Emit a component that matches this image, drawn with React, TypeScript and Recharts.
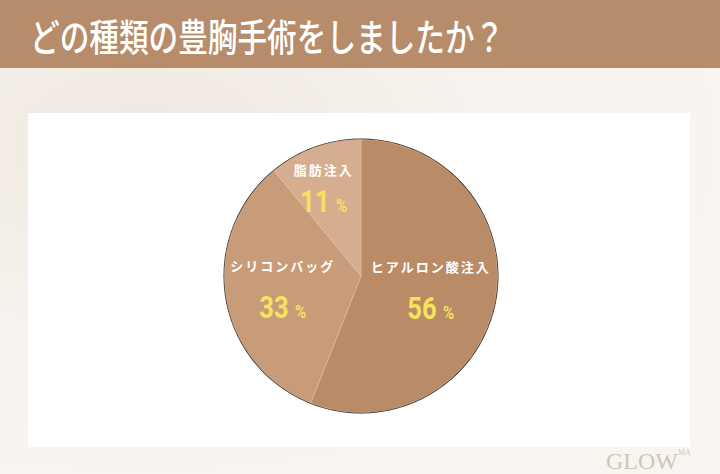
import React from "react";
import { PieChart, Pie, Cell } from "recharts";

const TITLE = "どの種類の豊胸手術をしましたか？";
const categories = ["ヒアルロン酸注入", "シリコンバッグ", "脂肪注入"];
const values = [56, 33, 11];
const sliceColors = ["#b98b67", "#c89c78", "#d6ae8f"];

const data = categories.map((name, i) => ({ name, value: values[i] }));
const ring = [{ name: "ring", value: 1 }];

const RAD = Math.PI / 180;
const labelRadiusFactor = [0.52, 0.58, 0.675];
const labelAngleShift = [0, 0, 4];
const numberGap = [30, 30, 20];

const renderLabel = (props: any) => {
  const { cx, cy, midAngle, outerRadius, index, name, value } = props;
  const r = outerRadius * labelRadiusFactor[index];
  const a = (midAngle + labelAngleShift[index]) * RAD;
  const x = cx + r * Math.cos(-a);
  const y = cy + r * Math.sin(-a);
  return (
    <g>
      <text
        x={x}
        y={y - 17}
        textAnchor="middle"
        fill="#ffffff"
        fontSize={13}
        fontWeight={700}
        letterSpacing={2}
        fontFamily="'Noto Sans CJK JP', sans-serif"
      >
        {name}
      </text>
      <text
        transform={`translate(${x} ${y + numberGap[index]}) scale(0.8 1)`}
        textAnchor="middle"
        fill="#f6e25c"
        fontFamily="'Roboto', 'Noto Sans', sans-serif"
        fontWeight={700}
      >
        <tspan fontSize={32}>{value}</tspan>
        <tspan fontSize={19} dx={8}>%</tspan>
      </text>
    </g>
  );
};

export default function App() {
  return (
    <div
      style={{
        position: "absolute",
        left: 0,
        top: 0,
        width: 720,
        height: 474,
        overflow: "hidden",
        background:
          "radial-gradient(ellipse at 20% 30%, #efe8df 0%, #f6f2ed 40%, #f8f5f1 70%), #f6f2ed",
        fontFamily: "'Noto Sans CJK JP', sans-serif",
      }}
    >
      <div
        style={{
          position: "absolute",
          left: 0,
          top: 0,
          width: 720,
          height: 68,
          background: "#b78c6a",
        }}
      />
      <div
        style={{
          position: "absolute",
          left: 30,
          top: 8,
          height: 54,
          color: "#ffffff",
          fontSize: 38,
          fontWeight: 500,
          lineHeight: "54px",
          whiteSpace: "nowrap",
          transform: "scaleX(0.78)",
          transformOrigin: "left center",
        }}
      >
        {TITLE}
      </div>
      <div
        style={{
          position: "absolute",
          left: 28,
          top: 113,
          width: 662,
          height: 334,
          background: "#ffffff",
        }}
      />
      <div
        style={{
          position: "absolute",
          left: 606,
          top: 446,
          color: "#d2c4b8",
          fontFamily: "'Liberation Serif', 'DejaVu Serif', serif",
          fontSize: 24,
          letterSpacing: 0,
          lineHeight: "30px",
        }}
      >
        GLOW
        <span style={{ fontSize: 8, verticalAlign: "top", lineHeight: "14px" }}>MA</span>
      </div>
      <div style={{ position: "absolute", left: 0, top: 0 }}>
        <PieChart width={720} height={474} margin={{ top: 0, right: 0, bottom: 0, left: 0 }}>
          <Pie
            data={ring}
            dataKey="value"
            cx={361}
            cy={276}
            innerRadius={135.5}
            outerRadius={137.5}
            startAngle={90}
            endAngle={-270}
            stroke="none"
            fill="#2e2119"
            isAnimationActive={false}
          />
          <Pie
            data={data}
            dataKey="value"
            nameKey="name"
            cx={361}
            cy={276}
            outerRadius={136.5}
            startAngle={90}
            endAngle={-270}
            stroke="#dcc0a8"
            strokeWidth={0.6}
            label={renderLabel}
            labelLine={false}
            isAnimationActive={false}
          >
            {data.map((d, i) => (
              <Cell key={d.name} fill={sliceColors[i]} />
            ))}
          </Pie>
        </PieChart>
      </div>
    </div>
  );
}
